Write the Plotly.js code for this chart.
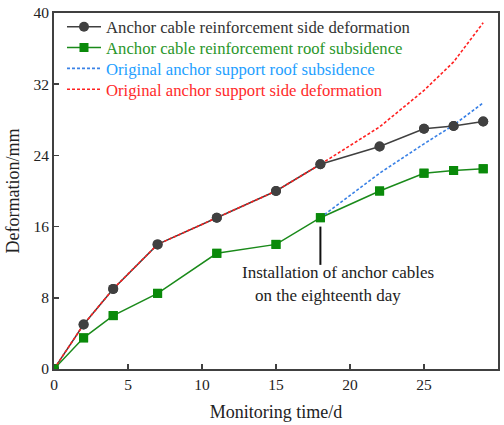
<!DOCTYPE html>
<html>
<head>
<meta charset="utf-8">
<script src="https://cdn.plot.ly/plotly-3.0.1.min.js"></script>
<style>html,body{margin:0;padding:0;background:#fff;}#chart{width:504px;height:425px;}</style>
</head>
<body>
<div id="chart"></div>
<script>
const days = [0, 2, 4, 7, 11, 15, 18, 22, 25, 27, 29];
const cableSide = [0, 5, 9, 14, 17, 20, 23, 25, 27, 27.3, 27.8];
const cableRoof = [0, 3.5, 6, 8.5, 13, 14, 17, 20, 22, 22.3, 22.5];
const origRoofDays = [18, 22, 25, 27, 29];
const origRoof = [17, 22, 25.3, 27.4, 29.9];
const origSideDays = [0, 2, 4, 7, 11, 15, 18, 22, 25, 27, 29];
const origSide = [0, 5, 9, 14, 17, 20, 23, 27.2, 31.3, 34.5, 38.9];
const xTicks = [0, 5, 10, 15, 20, 25, 30];
const yTicks = [0, 8, 16, 24, 32, 40];

const FF = 'Liberation Serif';
const cBlack = '#404040', cGreen = '#1a8a1a', cBlue = '#3b82e6', cRed = '#ff2020';

const traces = [
  {x: days, y: cableSide, mode: 'lines+markers', name: 'Anchor cable reinforcement side deformation',
   line: {color: cBlack, width: 1.5}, marker: {symbol: 'circle', size: 10, color: cBlack}},
  {x: days, y: cableRoof, mode: 'lines+markers', name: 'Anchor cable reinforcement roof subsidence',
   line: {color: cGreen, width: 1.5}, marker: {symbol: 'square', size: 9, color: '#0a8a0a'}},
  {x: origRoofDays, y: origRoof, mode: 'lines', name: 'Original anchor support roof subsidence',
   line: {color: cBlue, width: 1.6, dash: '3px,2px'}},
  {x: origSideDays, y: origSide, mode: 'lines', name: 'Original anchor support side deformation',
   line: {color: cRed, width: 1.6, dash: '3px,2px'}},
  {x: days, y: cableSide, mode: 'markers', showlegend: false, hoverinfo: 'skip',
   marker: {symbol: 'circle', size: 10, color: cBlack}},
  {x: days, y: cableRoof, mode: 'markers', showlegend: false, hoverinfo: 'skip',
   marker: {symbol: 'square', size: 9, color: '#0a8a0a'}}
];

function axisCommon() {
  return {
    showgrid: false, zeroline: false, showline: true, mirror: true,
    linecolor: '#404040', linewidth: 2, ticks: 'inside', ticklen: 5, tickwidth: 1.5, tickcolor: '#404040',
    tickfont: {family: FF, size: 15.5, color: '#222'}
  };
}

const layout = {
  width: 504, height: 425,
  margin: {l: 54, r: 6, t: 13, b: 56},
  paper_bgcolor: '#fff', plot_bgcolor: '#fff',
  font: {family: FF, size: 16, color: '#222'},
  xaxis: Object.assign(axisCommon(), {
    range: [0, 30], tickvals: xTicks, ticktext: xTicks.map(String),
    title: {text: 'Monitoring time/d', font: {family: FF, size: 18, color: '#222'}, standoff: 14}
  }),
  yaxis: Object.assign(axisCommon(), {
    range: [0, 40], tickvals: yTicks, ticktext: yTicks.map(String),
    title: {text: 'Deformation/mm', font: {family: FF, size: 18, color: '#222'}, standoff: 9}
  }),
  legend: {
    x: 0.018, y: 1.01, xanchor: 'left', yanchor: 'top', itemwidth: 34,
    bgcolor: 'rgba(0,0,0,0)', borderwidth: 0, tracegroupgap: 0,
    font: {family: FF, size: 16.7}
  },
  shapes: [
    {type: 'line', xref: 'x', yref: 'y', x0: 18, x1: 18, y0: 16.0, y1: 11.7,
     line: {color: '#111', width: 2}}
  ],
  annotations: [
    {x: 19.2, y: 10.8, xref: 'x', yref: 'y', text: 'Installation of anchor cables', showarrow: false,
     font: {family: FF, size: 17, color: '#222'}},
    {x: 18.5, y: 8.3, xref: 'x', yref: 'y', text: 'on the eighteenth day', showarrow: false,
     font: {family: FF, size: 17, color: '#222'}}
  ]
};

Plotly.newPlot('chart', traces, layout, {displayModeBar: false, staticPlot: true}).then(() => {
  const colors = ['#333333', '#2a962a', '#1ea0ff', '#ff2a2a'];
  const groups = document.querySelectorAll('.legend .traces');
  let x0 = null, y0 = null;
  groups.forEach((g, i) => {
    const t = g.querySelector('text.legendtext');
    if (t && colors[i]) t.style.fill = colors[i];
    const m = /translate\(\s*([-\d.]+)[ ,]+([-\d.]+)\s*\)/.exec(g.getAttribute('transform') || '');
    if (m) {
      if (x0 === null) { x0 = parseFloat(m[1]); y0 = parseFloat(m[2]); }
      g.setAttribute('transform', 'translate(' + x0 + ',' + (y0 + i * 20.8) + ')');
    }
  });
});
</script>
</body>
</html>
